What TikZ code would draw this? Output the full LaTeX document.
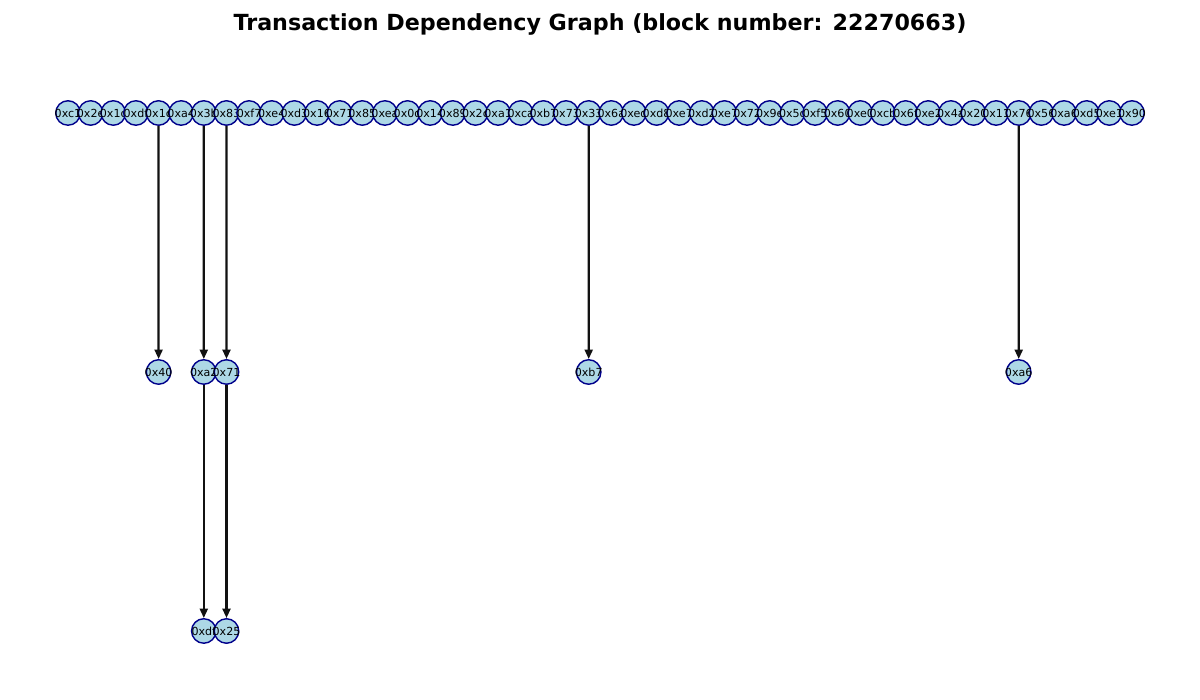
\documentclass[tikz,border=0pt]{standalone}
\usepackage{fontspec}
\setmainfont{DejaVu Sans}
\usetikzlibrary{arrows.meta}
\tikzset{
  tx/.style={circle,draw={rgb,255:red,0;green,0;blue,139},line width=1.4pt,fill={rgb,255:red,173;green,216;blue,230},minimum size=24.5pt,inner sep=0pt,font=\fontsize{11.1}{13}\selectfont},
  dep/.style={-{Triangle[length=9.5pt,width=8pt]},line width=2.2pt,draw={rgb,255:red,17;green,17;blue,17}}
}
\begin{document}
\begin{tikzpicture}[x=1pt,y=1pt]
\useasboundingbox (0,0) rectangle (1200,700);
\node[font=\fontsize{22.2}{26}\selectfont\bfseries] (title) at (600,676) {Transaction Dependency Graph (block number: 22270663)};
\foreach \lab [count=\i from 0] in {0xc1,0x2e,0x1c,0xdf,0x1c,0xa4,0x3b,0x83,0xf7,0xe4,0xd3,0x16,0x71,0x85,0xea,0x0d,0x14,0x89,0x2c,0xa1,0xca,0xb7,0x73,0x33,0x6a,0xed,0xd8,0xe7,0xd2,0xe7,0x72,0x9e,0x5c,0xf5,0x60,0xe0,0xcb,0x6f,0xe2,0x4a,0x20,0x11,0x76,0x56,0xa6,0xd5,0xe1,0x90}
  \node[tx] (t\i) at ({68+\i*22.638},587) {\makebox[0pt]{\lab}};
\node[tx] (m40) at (158.6,328) {\makebox[0pt]{0x40}};
\node[tx] (ma2) at (203.8,328) {\makebox[0pt]{0xa2}};
\node[tx] (m71) at (226.5,328) {\makebox[0pt]{0x71}};
\node[tx] (mb7) at (588.7,328) {\makebox[0pt]{0xb7}};
\node[tx] (ma6) at (1018.7,328) {\makebox[0pt]{0xa6}};
\node[tx] (bdf) at (203.8,69) {\makebox[0pt]{0xdf}};
\node[tx] (b25) at (226.5,69) {\makebox[0pt]{0x25}};
\draw[dep] (t4) -- (m40);
\draw[dep] (t6) -- (ma2);
\draw[dep] (t7) -- (m71);
\draw[dep] (t23) -- (mb7);
\draw[dep] (t42) -- (ma6);
\draw[dep] (ma2) -- (bdf);
\draw[dep] (m71) -- (b25);
\end{tikzpicture}
\end{document}
